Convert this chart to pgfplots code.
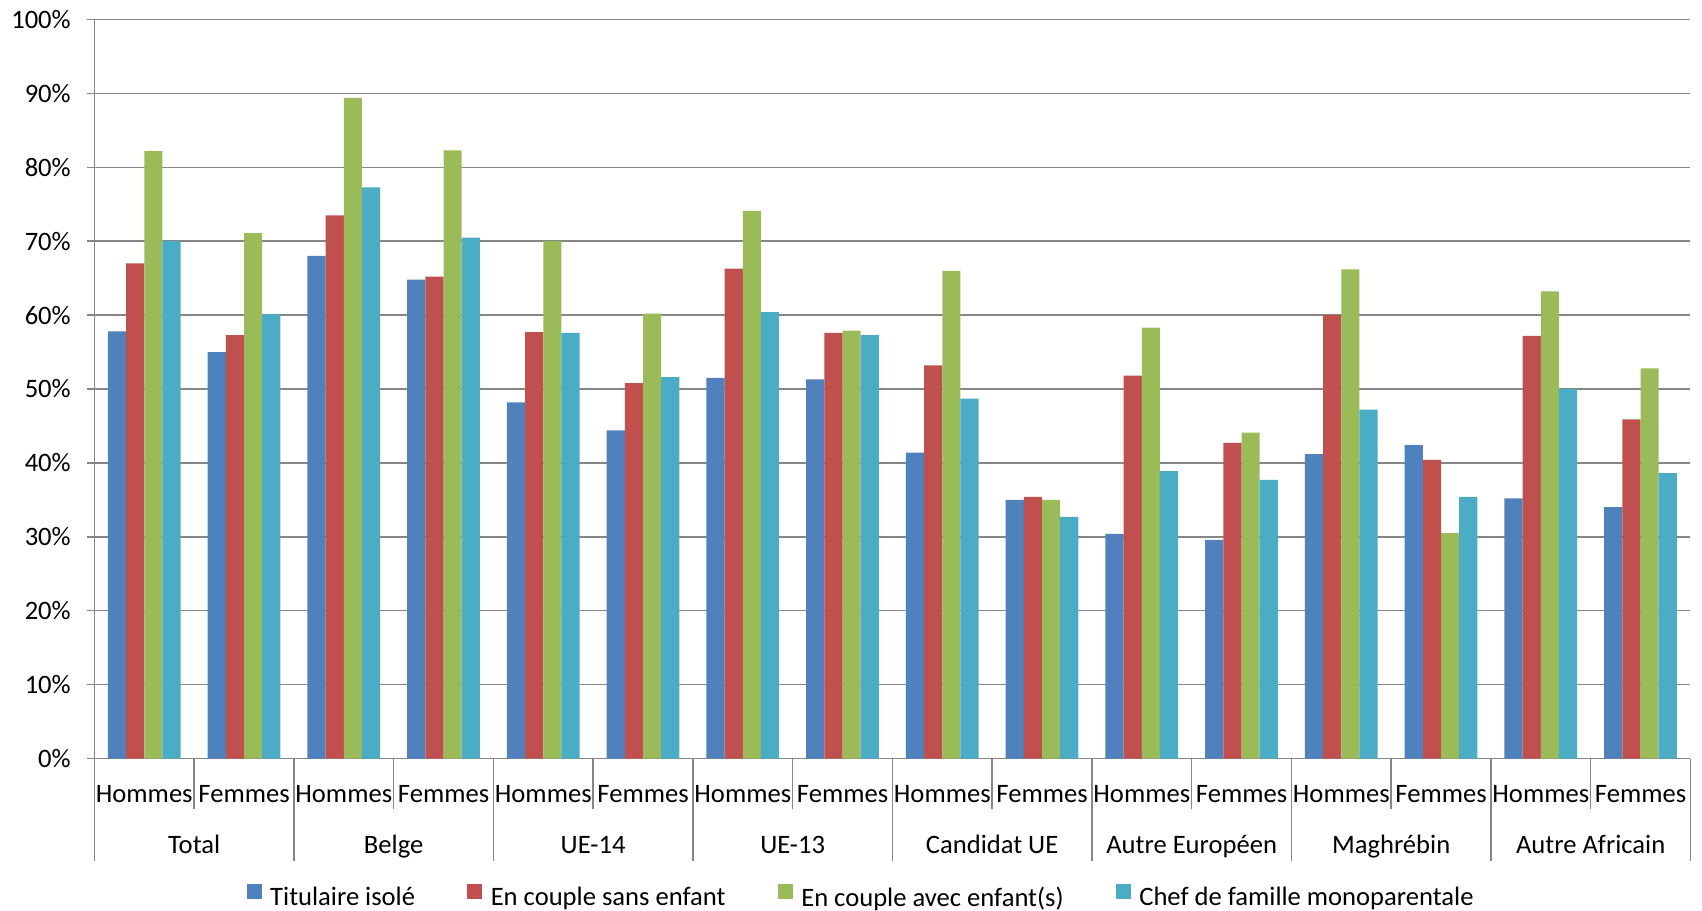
\documentclass[border=0pt]{standalone}
\usepackage{fontspec}
\setmainfont{Carlito}
\usepackage{pgfplots}
\usepackage{pgfplotstable}
\pgfplotsset{compat=1.18}

\definecolor{sblue}{HTML}{4F81BD}
\definecolor{sred}{HTML}{C0504D}
\definecolor{sgreen}{HTML}{9BBB59}
\definecolor{scyan}{HTML}{4BACC6}
\definecolor{gridgray}{HTML}{868686}

% x: 0,2,4,... = Hommes ; 1,3,5,... = Femmes
\pgfplotstableread{
x  a    b    c    d
0  57.8 67.0 82.2 70.0
1  55.0 57.3 71.1 60.1
2  68.0 73.5 89.4 77.3
3  64.8 65.2 82.3 70.5
4  48.2 57.7 70.0 57.6
5  44.4 50.8 60.2 51.6
6  51.5 66.3 74.1 60.4
7  51.3 57.6 57.9 57.3
8  41.4 53.2 66.0 48.7
9  35.0 35.4 35.0 32.7
10 30.4 51.8 58.3 38.9
11 29.6 42.7 44.1 37.7
12 41.2 60.0 66.2 47.2
13 42.4 40.4 30.5 35.4
14 35.2 57.2 63.2 50.0
15 34.0 45.9 52.8 38.6
}\datatable

\newcommand{\lblfont}{\fontsize{13.3}{16}\selectfont}

\begin{document}
\begin{tikzpicture}
\path[use as bounding box] (-47.2pt,-76.1pt) rectangle (803.8pt,379.25pt);
\begin{axis}[
    at={(0,0)}, anchor=south west,
    scale only axis, width=798pt, height=369.5pt,
    clip=false,
    xmin=-0.5, xmax=15.5, ymin=0, ymax=100,
    ybar, bar width=0.182,
    axis x line*=bottom, axis y line*=left,
    axis line style={draw=gridgray, line width=0.75pt},
    ymajorgrids, grid style={draw=gridgray, line width=0.75pt},
    ytick={0,10,...,100},
    yticklabel={\pgfmathprintnumber{\tick}\%},
    /pgf/number format/assume math mode=true,
    ytick style={draw=gridgray, line width=0.75pt},
    tick align=outside, major tick length=3.8pt,
    yticklabel style={font=\lblfont, xshift=-4.5pt},
    xtick={0,...,15},
    xticklabels={Hommes,Femmes,Hommes,Femmes,Hommes,Femmes,Hommes,Femmes,
                 Hommes,Femmes,Hommes,Femmes,Hommes,Femmes,Hommes,Femmes},
    xtick style={draw=none},
    xticklabel style={font=\lblfont, anchor=base, yshift=-18.4pt},
    legend columns=4,
    legend style={draw=none, font=\lblfont,
        at={(0.481,-0.189)}, anchor=center,
        /tikz/every odd column/.append style={column sep=2.2pt},
        /tikz/every even column/.append style={column sep=24pt}},
    legend image code/.code={\fill[#1] (0pt,-0.3pt) rectangle (7.6pt,7.3pt);},
]
\addplot[fill=sblue, draw=none, bar shift=-0.273] table[x=x, y=a] {\datatable};
\addplot[fill=sred, draw=none, bar shift=-0.091] table[x=x, y=b] {\datatable};
\addplot[fill=sgreen, draw=none, bar shift=0.091] table[x=x, y=c] {\datatable};
\addplot[fill=scyan, draw=none, bar shift=0.273] table[x=x, y=d] {\datatable};
\legend{Titulaire isolé, En couple sans enfant, En couple avec enfant(s), Chef de famille monoparentale}

% separators below the axis
\pgfplotsinvokeforeach{-0.5,1.5,3.5,5.5,7.5,9.5,11.5,13.5,15.5}{
  \draw[gridgray, line width=0.75pt] (axis cs:#1,0) -- ++(0pt,-51.2pt);
}
\pgfplotsinvokeforeach{0.5,2.5,4.5,6.5,8.5,10.5,12.5,14.5}{
  \draw[gridgray, line width=0.75pt] (axis cs:#1,0) -- ++(0pt,-25.4pt);
}
% group names
\node[font=\lblfont, anchor=base] at ([yshift=-47.3pt]axis cs:0.5,0) {Total};
\node[font=\lblfont, anchor=base] at ([yshift=-47.3pt]axis cs:2.5,0) {Belge};
\node[font=\lblfont, anchor=base] at ([yshift=-47.3pt]axis cs:4.5,0) {UE-14};
\node[font=\lblfont, anchor=base] at ([yshift=-47.3pt]axis cs:6.5,0) {UE-13};
\node[font=\lblfont, anchor=base] at ([yshift=-47.3pt]axis cs:8.5,0) {Candidat UE};
\node[font=\lblfont, anchor=base] at ([yshift=-47.3pt]axis cs:10.5,0) {Autre Européen};
\node[font=\lblfont, anchor=base] at ([yshift=-47.3pt]axis cs:12.5,0) {Maghrébin};
\node[font=\lblfont, anchor=base] at ([yshift=-47.3pt]axis cs:14.5,0) {Autre Africain};
\end{axis}
\end{tikzpicture}
\end{document}
